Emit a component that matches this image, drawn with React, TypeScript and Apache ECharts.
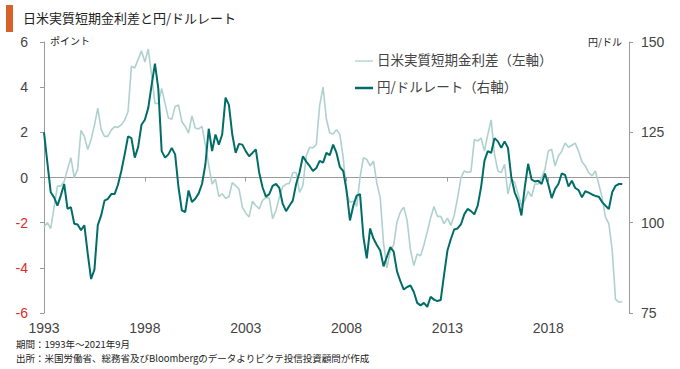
import React, { useEffect, useRef } from "react";
import * as echarts from "echarts";

// Samples every two months, from January 1993 to September 2021
const START_YEAR = 1993;
const STEP_MONTHS = 2;

// 日米実質短期金利差 (points, left axis)
const rateGap: number[] = [
  -2.19, -2.0, -2.26, -1.31, -0.38, -0.38, -0.18, 0.36, 0.88, 0.0,
  0.36, 2.09, 1.82, 1.24, 1.68, 2.31, 3.07, 2.12, 1.82, 1.82,
  2.1, 2.25, 2.22, 2.34, 2.54, 2.92, 4.93, 4.85, 5.23, 5.61,
  5.11, 5.69, 4.53, 3.28, 3.28, 3.94, 3.28, 2.63, 2.58, 3.14,
  3.21, 2.48, 2.26, 1.97, 2.73, 2.19, 2.15, 2.26, 1.43, 0.55,
  -0.29, -0.07, -0.85, -0.72, -0.92, -0.85, -0.23, -0.36, -0.51, -1.31,
  -1.58, -1.75, -1.05, -1.24, -1.39, -1.02, -0.88, -0.91, -1.82, -1.46,
  -0.88, -0.41, -0.29, -0.26, 0.22, 0.22, -0.66, -0.36, 0.95, 1.34,
  1.31, 1.46, 3.2, 4.0, 2.58, 1.97, 1.93, 2.12, 1.9, 0.88,
  -0.73, -1.09, -1.05, -1.28, 0.0, 0.88, 0.8, 0.51, 0.73, -0.26,
  -0.88, -2.92, -4.0, -3.24, -2.99, -1.97, -1.53, -1.31, -1.9, -3.21,
  -3.9, -3.39, -3.47, -2.99, -2.41, -1.78, -1.28, -1.72, -1.72, -2.04,
  -1.8, -2.12, -1.68, -0.91, -0.03, 0.29, 0.22, 0.26, 1.68, 1.61,
  1.75, 1.17, 1.9, 2.55, 1.02, 0.29, 0.22, 0.58, -0.73, -0.07,
  -0.22, -0.73, -1.24, -1.02, -0.61, -0.85, -0.29, -0.29, 0.0, 0.36,
  1.17, 1.24, 0.51, 0.95, 1.17, 1.53, 1.34, 1.43, 1.52, 1.17,
  0.7, 0.51, 0.22, 0.07, 0.29, -0.29, -0.88, -1.75, -2.04, -3.21,
  -5.4, -5.52, -5.49,
];

// 円/ドルレート (yen per dollar, right axis)
const usdJpy: number[] = [
  125.0, 116.6, 108.4, 107.0, 104.7, 107.5, 110.7, 103.8, 104.3, 99.7,
  99.5, 97.9, 99.3, 91.5, 84.4, 87.0, 99.3, 102.0, 106.1, 106.6,
  107.9, 107.9, 110.5, 114.3, 118.9, 123.9, 123.4, 118.0, 120.9, 127.1,
  128.5, 131.7, 138.0, 144.0, 137.1, 119.8, 118.0, 118.9, 120.7, 118.9,
  109.8, 103.4, 102.9, 108.9, 105.7, 106.6, 108.1, 110.7, 116.1, 126.0,
  119.8, 124.4, 121.6, 124.4, 134.6, 132.6, 124.4, 119.3, 121.8, 121.6,
  119.8, 118.4, 119.3, 120.3, 113.9, 109.8, 107.2, 107.9, 110.2, 110.7,
  109.6, 105.2, 103.2, 104.7, 106.1, 110.7, 113.9, 118.4, 116.9, 115.7,
  114.3, 115.1, 117.1, 116.6, 119.3, 118.7, 121.6, 119.3, 115.4, 114.3,
  108.9, 100.6, 104.7, 107.5, 107.9, 96.1, 90.1, 98.4, 95.6, 93.8,
  92.3, 87.9, 90.6, 93.2, 92.0, 86.5, 83.8, 81.5, 82.2, 82.6,
  80.8, 77.8, 77.1, 77.8, 76.7, 79.5, 78.7, 78.3, 78.6, 85.6,
  92.3, 95.4, 98.1, 98.4, 99.5, 102.3, 103.8, 103.2, 102.3, 104.7,
  109.8, 117.1, 119.8, 119.3, 123.4, 122.5, 120.7, 122.5, 120.7, 112.5,
  108.4, 106.1, 102.0, 109.8, 116.3, 112.0, 111.4, 111.6, 110.7, 113.6,
  110.5, 106.8, 109.3, 110.7, 113.6, 113.2, 110.0, 111.6, 109.6, 109.0,
  107.0, 108.7, 108.3, 107.8, 107.4, 107.2, 105.7, 104.7, 103.8, 108.4,
  110.2, 110.7, 110.7,
];

const yearTicks = [1993, 1998, 2003, 2008, 2013, 2018];
const leftTicks = [-6, -4, -2, 0, 2, 4, 6];
const rightTicks = [75, 100, 125, 150];

const TITLE = "日米実質短期金利差と円/ドルレート";
const SERIES_GAP = "日米実質短期金利差（左軸）";
const SERIES_FX = "円/ドルレート（右軸）";
const LEFT_UNIT = "ポイント";
const RIGHT_UNIT = "円/ドル";
const NOTE_PERIOD = "期間：1993年～2021年9月";
const NOTE_SOURCE = "出所：米国労働省、総務省及びBloombergのデータよりピクテ投信投資顧問が作成";

const LIGHT = "#aed1ce";
const DARK = "#006d68";
const AXIS = "#9a9a9a";
const JP = "'Noto Sans CJK JP', 'Noto Sans', sans-serif";
const NUM = "'Liberation Sans', 'Noto Sans', sans-serif";

export default function App() {
  const ref = useRef<HTMLDivElement>(null);

  useEffect(() => {
    if (!ref.current) return;
    const chart = echarts.init(ref.current, null, { renderer: "svg" });
    const xMonths = (i: number) => i * STEP_MONTHS;
    const firstTickMonths = (yearTicks[0] - START_YEAR) * 12;
    const tickStep = (yearTicks[1] - yearTicks[0]) * 12;
    const xMax = (2022 - START_YEAR) * 12;

    chart.setOption({
      animation: false,
      backgroundColor: "#ffffff",
      grid: {
        left: 44,
        right: 51,
        top: 42,
        bottom: 56,
        containLabel: false,
        outerBoundsMode: "none",
      },
      xAxis: [
        {
          type: "value",
          min: firstTickMonths,
          max: xMax,
          interval: tickStep,
          position: "bottom",
          axisLine: { show: false, onZero: false },
          axisTick: { show: false },
          splitLine: { show: false },
          axisLabel: {
            margin: 8,
            color: "#444",
            fontSize: 14,
            fontFamily: NUM,
            showMaxLabel: false,
            formatter: (v: number) => {
              const y = START_YEAR + v / 12;
              return yearTicks.includes(y) ? String(y) : "";
            },
          },
        },
        {
          type: "value",
          min: firstTickMonths,
          max: xMax,
          interval: tickStep,
          position: "bottom",
          axisLine: {
            show: true,
            onZero: true,
            onZeroAxisIndex: 0,
            lineStyle: { color: AXIS, width: 1 },
          },
          axisTick: { show: true, length: 4, lineStyle: { color: AXIS } },
          axisLabel: { show: false },
          splitLine: { show: false },
        },
      ],
      yAxis: [
        {
          type: "value",
          min: leftTicks[0],
          max: leftTicks[leftTicks.length - 1],
          interval: 2,
          position: "left",
          axisLine: { show: true, onZero: false, lineStyle: { color: AXIS } },
          axisTick: { show: true, length: 4, lineStyle: { color: AXIS } },
          splitLine: { show: false },
          axisLabel: {
            margin: 16,
            fontSize: 14,
            fontFamily: NUM,
            formatter: (v: number) => (v < 0 ? `{n|${v}}` : `{p|${v}}`),
            rich: {
              n: { color: "#e02b2b", fontSize: 14, fontFamily: NUM },
              p: { color: "#444", fontSize: 14, fontFamily: NUM },
            },
          },
        },
        {
          type: "value",
          min: rightTicks[0],
          max: rightTicks[rightTicks.length - 1],
          interval: 25,
          position: "right",
          axisLine: { show: true, onZero: false, lineStyle: { color: AXIS } },
          axisTick: { show: true, length: 4, lineStyle: { color: AXIS } },
          splitLine: { show: false },
          axisLabel: {
            margin: 12,
            fontSize: 14,
            color: "#444",
            fontFamily: NUM,
          },
        },
      ],
      series: [
        {
          name: SERIES_GAP,
          type: "line",
          xAxisIndex: 0,
          yAxisIndex: 0,
          showSymbol: false,
          symbol: "none",
          data: rateGap.map((v, i) => [xMonths(i), v]),
          lineStyle: { color: LIGHT, width: 1.6 },
          itemStyle: { color: LIGHT },
          z: 2,
        },
        {
          name: SERIES_FX,
          type: "line",
          xAxisIndex: 0,
          yAxisIndex: 1,
          showSymbol: false,
          symbol: "none",
          data: usdJpy.map((v, i) => [xMonths(i), v]),
          lineStyle: { color: DARK, width: 2 },
          itemStyle: { color: DARK },
          z: 3,
        },
      ],
      graphic: [
        { type: "rect", left: 6, top: 5, shape: { width: 7, height: 27 }, style: { fill: "#d4622a" } },
        {
          type: "text",
          left: 23,
          top: 11,
          style: { text: TITLE, font: `13px ${JP}`, fill: "#222" },
        },
        {
          type: "text",
          left: 50,
          top: 35,
          style: { text: LEFT_UNIT, font: `10px ${JP}`, fill: "#222" },
        },
        {
          type: "text",
          right: 58,
          top: 36,
          style: { text: RIGHT_UNIT, font: `10px ${JP}`, fill: "#222" },
        },
        {
          type: "line",
          shape: { x1: 355, y1: 61, x2: 373, y2: 61 },
          style: { stroke: LIGHT, lineWidth: 1.3 },
        },
        {
          type: "text",
          left: 377,
          top: 52,
          style: { text: SERIES_GAP, font: `13.5px ${JP}`, fill: "#444" },
        },
        {
          type: "line",
          shape: { x1: 355, y1: 88, x2: 373, y2: 88 },
          style: { stroke: DARK, lineWidth: 2.5 },
        },
        {
          type: "text",
          left: 377,
          top: 79,
          style: { text: SERIES_FX, font: `13.5px ${JP}`, fill: "#444" },
        },
        {
          type: "text",
          left: 16,
          top: 339,
          style: { text: NOTE_PERIOD, font: `9.5px ${JP}`, fill: "#222" },
        },
        {
          type: "text",
          left: 16,
          top: 353,
          style: { text: NOTE_SOURCE, font: `9.5px ${JP}`, fill: "#222" },
        },
      ],
    });
    return () => chart.dispose();
  }, []);

  return (
    <div
      ref={ref}
      style={{ position: "fixed", left: 0, top: 0, width: 680, height: 369, background: "#fff" }}
    />
  );
}
